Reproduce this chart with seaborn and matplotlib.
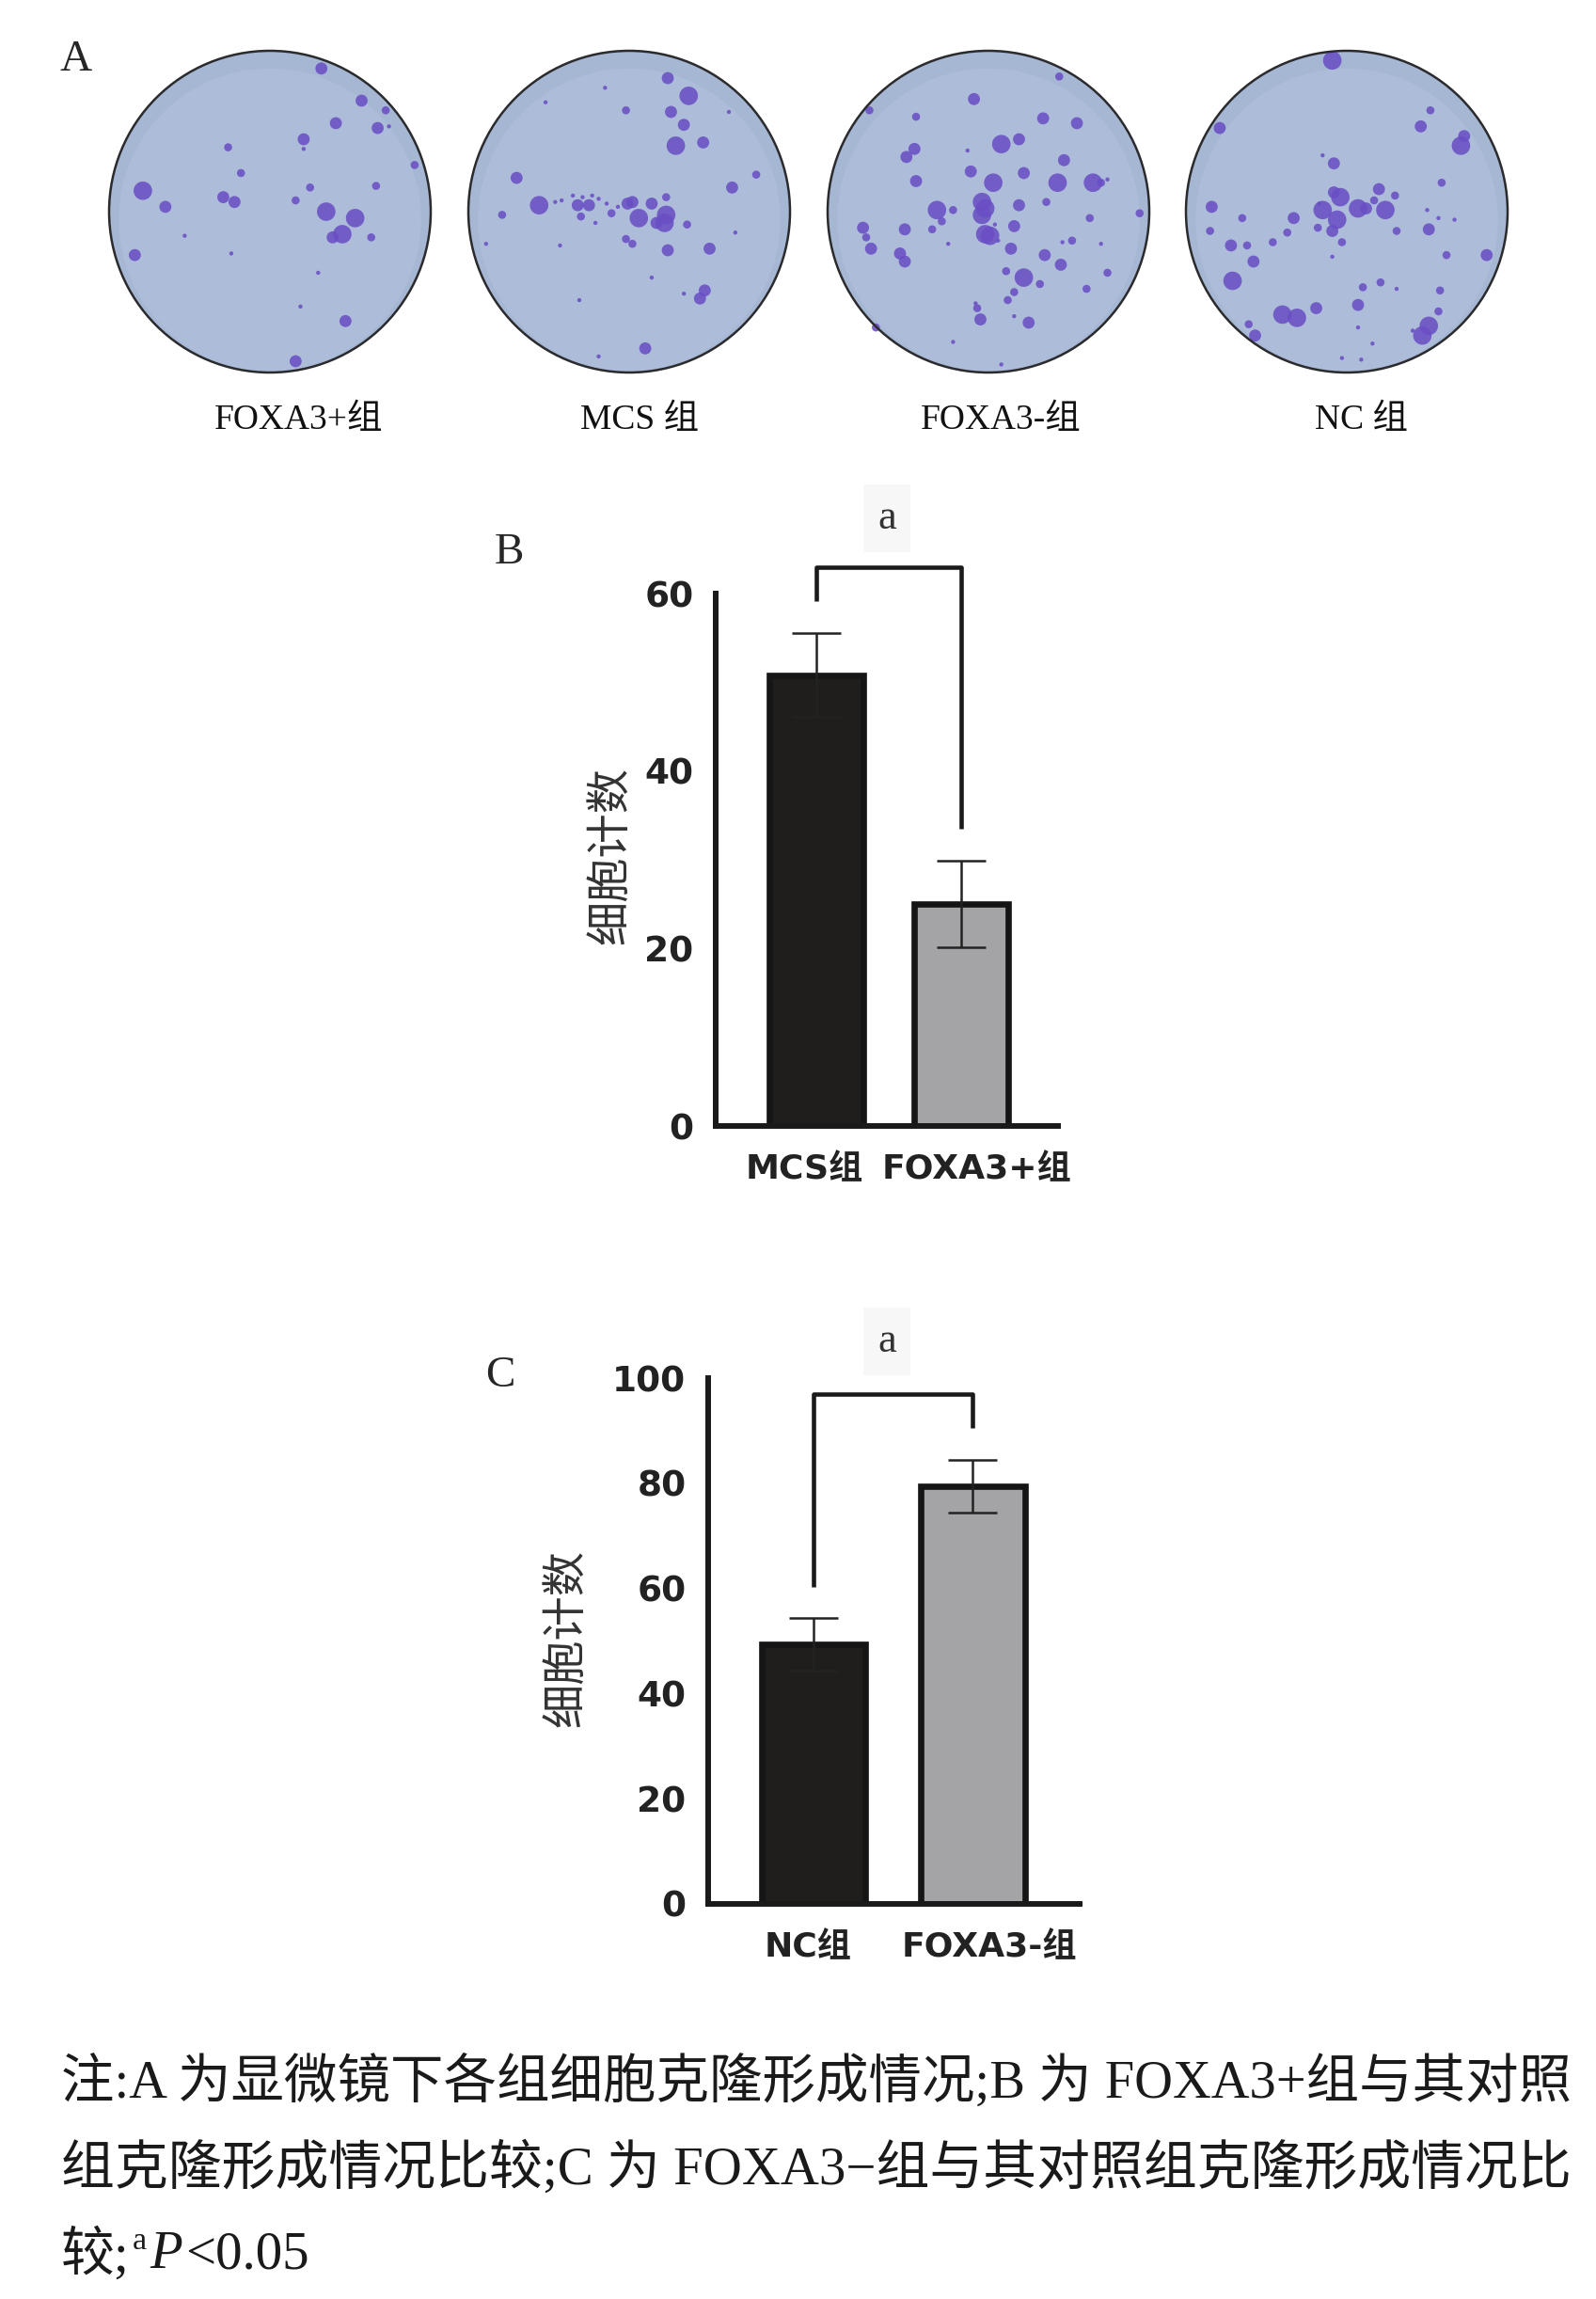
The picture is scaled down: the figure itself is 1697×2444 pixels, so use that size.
import numpy as np
import pandas as pd
import matplotlib
matplotlib.use("Agg")
import matplotlib.pyplot as plt
import matplotlib.transforms as mtransforms
from matplotlib.patches import Circle
import seaborn as sns

# %%
# Data

# Panel A: colonies on each dish, x / y relative to dish centre (in dish radii), size class 1-4
dish_labels = ["FOXA3+组", "MCS 组", "FOXA3-组", "NC 组"]

dish1 = [(0.32, 0.89, 3), (0.57, 0.69, 3), (0.72, 0.63, 2), (0.41, 0.55, 3), (0.67, 0.52, 3),
         (0.74, 0.53, 1), (0.21, 0.45, 3), (0.21, 0.39, 1), (-0.26, 0.40, 2), (0.90, 0.29, 2),
         (-0.18, 0.24, 2), (0.25, 0.15, 2), (0.66, 0.16, 2), (-0.79, 0.13, 4), (-0.65, 0.03, 3),
         (-0.29, 0.09, 3), (-0.22, 0.06, 3), (0.16, 0.07, 2), (0.35, 0.00, 4), (0.53, -0.04, 4),
         (0.45, -0.14, 4), (0.39, -0.16, 3), (0.63, -0.16, 2), (-0.84, -0.27, 3), (-0.53, -0.15, 1),
         (-0.24, -0.26, 1), (0.30, -0.38, 1), (0.19, -0.59, 1), (0.47, -0.68, 3), (0.16, -0.93, 3)]

dish2 = [(0.24, 0.83, 3), (0.37, 0.72, 4), (-0.15, 0.77, 1), (-0.52, 0.68, 1), (-0.02, 0.63, 2),
         (0.26, 0.62, 3), (0.34, 0.54, 3), (0.62, 0.62, 1), (0.29, 0.41, 4), (0.46, 0.43, 3),
         (-0.70, 0.21, 3), (0.79, 0.23, 2), (0.64, 0.15, 3), (-0.56, 0.04, 4), (-0.79, -0.02, 2),
         (-0.32, 0.04, 3), (-0.25, 0.04, 3), (-0.30, -0.03, 2), (-0.01, 0.05, 3), (0.02, 0.06, 3),
         (-0.11, -0.01, 2), (0.14, 0.05, 3), (0.23, 0.09, 2), (0.06, -0.04, 4), (0.23, -0.02, 4),
         (0.22, -0.07, 4), (0.17, -0.07, 3), (0.36, -0.08, 2), (-0.21, -0.07, 1), (-0.02, -0.17, 2),
         (0.02, -0.20, 2), (0.24, -0.24, 3), (0.50, -0.23, 3), (0.66, -0.13, 1), (-0.89, -0.20, 1),
         (-0.43, -0.21, 1), (0.14, -0.41, 1), (0.47, -0.49, 3), (0.44, -0.54, 3), (0.34, -0.51, 1),
         (-0.31, -0.55, 1), (0.10, -0.85, 3), (-0.19, -0.90, 1), (-0.35, 0.10, 1), (-0.29, 0.09, 1),
         (-0.23, 0.10, 1), (-0.19, 0.08, 1), (-0.46, 0.06, 1), (-0.42, 0.07, 1), (-0.14, 0.05, 1),
         (-0.07, 0.03, 1)]

dish3 = [(-0.09, 0.70, 3), (0.44, 0.84, 2), (-0.74, 0.63, 2), (-0.45, 0.59, 2), (0.34, 0.58, 3),
         (0.55, 0.55, 3), (0.08, 0.42, 4), (0.19, 0.45, 3), (-0.46, 0.39, 3), (-0.51, 0.34, 3),
         (-0.13, 0.38, 1), (-0.11, 0.25, 3), (0.03, 0.18, 4), (0.22, 0.24, 3), (0.47, 0.32, 3),
         (-0.45, 0.19, 3), (0.43, 0.18, 4), (0.65, 0.18, 4), (0.70, 0.18, 2), (0.74, 0.20, 1),
         (-0.04, 0.06, 4), (-0.04, -0.02, 4), (-0.02, 0.02, 4), (0.19, 0.04, 3), (0.36, 0.06, 2),
         (-0.32, 0.01, 4), (-0.22, 0.01, 2), (-0.29, -0.06, 2), (-0.35, -0.11, 2), (-0.52, -0.11, 3),
         (-0.78, -0.10, 3), (-0.76, -0.16, 2), (-0.73, -0.23, 3), (-0.55, -0.26, 3), (-0.52, -0.31, 3),
         (-0.02, -0.14, 4), (0.01, -0.15, 4), (0.16, -0.09, 3), (0.14, -0.23, 3), (0.04, -0.08, 1),
         (0.06, -0.18, 1), (-0.25, -0.20, 1), (0.63, -0.04, 2), (0.52, -0.18, 2), (0.46, -0.19, 1),
         (0.70, -0.20, 1), (0.94, -0.01, 2), (0.35, -0.27, 3), (0.45, -0.33, 3), (0.11, -0.37, 2),
         (0.22, -0.41, 4), (0.32, -0.45, 2), (0.74, -0.38, 2), (0.61, -0.48, 2), (0.16, -0.50, 2),
         (0.12, -0.55, 2), (-0.08, -0.57, 1), (-0.07, -0.60, 2), (-0.05, -0.67, 3), (0.25, -0.69, 3),
         (0.16, -0.65, 1), (-0.70, -0.72, 2), (-0.22, -0.81, 1), (0.08, -0.95, 1)]

dish4 = [(-0.09, 0.94, 4), (-0.79, 0.52, 3), (0.46, 0.53, 3), (0.52, 0.63, 2), (0.71, 0.41, 4),
         (0.73, 0.47, 3), (-0.08, 0.30, 3), (-0.15, 0.35, 1), (0.59, 0.18, 2), (0.20, 0.14, 3),
         (-0.08, 0.12, 3), (-0.04, 0.09, 4), (-0.15, 0.01, 4), (-0.06, -0.05, 4), (0.07, 0.02, 4),
         (0.12, 0.02, 3), (0.24, 0.01, 4), (0.30, 0.10, 2), (0.17, 0.07, 2), (-0.17, 0.05, 1),
         (-0.33, -0.04, 3), (-0.18, -0.10, 2), (-0.09, -0.12, 3), (-0.03, -0.19, 2), (0.31, -0.12, 2),
         (0.51, -0.11, 3), (0.50, 0.01, 1), (0.57, -0.04, 1), (0.67, -0.05, 1), (-0.84, 0.03, 3),
         (-0.65, -0.04, 2), (-0.85, -0.12, 2), (-0.72, -0.21, 3), (-0.62, -0.21, 2), (-0.46, -0.19, 2),
         (-0.37, -0.13, 2), (-0.58, -0.31, 3), (-0.71, -0.43, 4), (0.62, -0.27, 2), (0.87, -0.27, 3),
         (-0.09, -0.28, 1), (0.21, -0.44, 2), (0.10, -0.47, 2), (0.58, -0.49, 2), (0.31, -0.48, 1),
         (0.07, -0.58, 3), (-0.19, -0.60, 3), (-0.40, -0.64, 4), (-0.31, -0.66, 4), (0.57, -0.62, 2),
         (0.51, -0.71, 4), (0.47, -0.77, 4), (-0.61, -0.70, 2), (-0.57, -0.77, 3), (0.07, -0.72, 1),
         (0.41, -0.74, 1), (0.16, -0.82, 1), (-0.03, -0.91, 1), (0.09, -0.92, 1)]

# Panel B
b_groups = ["MCS组", "FOXA3+组"]
b_means = [50.8, 25.0]
b_errs = [4.7, 4.9]

# Panel C
c_groups = ["NC组", "FOXA3-组"]
c_means = [49.3, 79.5]
c_errs = [5.0, 5.0]

caption_lines = [
    "注:A 为显微镜下各组细胞克隆形成情况;B 为 FOXA3+组与其对照",
    "组克隆形成情况比较;C 为 FOXA3−组与其对照组克隆形成情况比",
]
# last caption line as pieces: plain, superscript, italic, plain
caption_last = ["较;", "a", "P", "<0.05"]

# %%
# Layout helpers (pixel coordinates of the 1697 x 2444 canvas)
W, H = 1697, 2444


def rect(l, t, r, b):
    return [l / W, 1 - b / H, (r - l) / W, (b - t) / H]


def fx(x):
    return x / W


def fy(y):
    return 1 - y / H


sns.set_style("white")
plt.rcParams["font.family"] = ["Liberation Serif", "Noto Sans CJK SC", "DejaVu Sans"]

serif_cjk = ["Liberation Serif", "Noto Sans CJK SC"]
bold_cjk = ["DejaVu Sans", "Noto Sans CJK SC"]

fig = plt.figure(figsize=(W / 100, H / 100), dpi=100)
fig.patch.set_facecolor("white")
renderer = fig.canvas.get_renderer()

# %%
# Panel A - dishes
size_map = {1: 10, 2: 38, 3: 85, 4: 200}
dish_cx = [287, 669, 1051, 1432]
dish_cy = 225
dish_r = 171
label_x = [318, 680, 1064, 1448]

for i, colonies in enumerate([dish1, dish2, dish3, dish4]):
    cx = dish_cx[i]
    pad = dish_r * 1.05
    ax = fig.add_axes(rect(cx - pad, dish_cy - pad, cx + pad, dish_cy + pad))
    ax.set_xlim(-1.05, 1.05)
    ax.set_ylim(-1.05, 1.05)
    ax.set_aspect("equal")
    ax.axis("off")

    ax.add_patch(Circle((0, 0), 1.0, facecolor="#a6b7d4", edgecolor="none", zorder=1))
    ax.add_patch(Circle((0, -0.05), 0.94, facecolor="#adbdd9", edgecolor="none", zorder=1))
    ax.add_patch(Circle((0, 0), 1.0, facecolor="none", edgecolor="#2b2b2e", linewidth=1.8, zorder=4))

    xs = [c[0] for c in colonies]
    ys = [c[1] for c in colonies]
    ss = [size_map[c[2]] for c in colonies]
    ax.scatter(xs, ys, s=ss, color="#6a4fc4", alpha=0.88, linewidths=0, zorder=3)

    fig.text(fx(label_x[i]), fy(447), dish_labels[i], ha="center", va="center",
             fontsize=27, family=serif_cjk, color="#111111")

fig.text(fx(81), fy(64), "A", ha="center", va="center", fontsize=34, family=serif_cjk)


# %%
# Panels B and C - bar charts
def bar_panel(box, groups, means, errs, ymax, step, xlim, label_shift):
    ax = fig.add_axes(rect(*box))
    df = pd.DataFrame({"group": groups, "count": means})
    sns.barplot(data=df, x="group", y="count", hue="group",
                palette=["#1f1e1c", "#a4a3a8"], width=0.65,
                edgecolor="#151515", linewidth=4.8, errorbar=None,
                legend=False, ax=ax, zorder=2)
    ax.errorbar(x=[0, 1], y=means, yerr=errs, fmt="none", ecolor="#222222",
                elinewidth=1.8, capsize=19, capthick=1.8, zorder=3)

    ax.set_ylim(0, ymax)
    ax.set_xlim(*xlim)
    ax.set_yticks(np.arange(0, ymax + 1, step))
    ax.set_xlabel("")
    ax.set_ylabel("")
    sns.despine(ax=ax)
    for side in ["left", "bottom"]:
        ax.spines[side].set_linewidth(4.3)
        ax.spines[side].set_color("#1a1a1a")
    ax.tick_params(axis="both", width=4.3, length=12, color="#1a1a1a",
                   labelsize=27, pad=5, direction="out")
    ax.tick_params(axis="x", pad=9, labelsize=26)
    for lab in ax.get_xticklabels() + ax.get_yticklabels():
        lab.set_family(bold_cjk)
        lab.set_fontweight("bold")
        lab.set_color("#222222")
    # the category labels sit a little off their ticks in the original
    for lab, dx in zip(ax.get_xticklabels(), label_shift):
        shift = mtransforms.ScaledTranslation(dx / 100, 0, fig.dpi_scale_trans)
        lab.set_transform(lab.get_transform() + shift)

    # significance bracket
    tops = [m + e for m, e in zip(means, errs)]
    gap = 0.06 * ymax
    top = max(tops) + 0.125 * ymax
    ax.plot([0, 0, 1, 1], [tops[0] + gap, top, top, tops[1] + gap],
            color="#1a1a1a", linewidth=3.3, clip_on=False, solid_capstyle="butt")
    return ax


ax_b = bar_panel((761, 631, 1125, 1197), b_groups, b_means, b_errs, 60, 20,
                 (-0.695, 1.67), (-13, 17))
ax_c = bar_panel((753, 1465, 1148, 2024), c_groups, c_means, c_errs, 100, 20,
                 (-0.66, 1.67), (-6, 17))

for (x, y), letter in zip([(541, 588), (532, 1463)], ["B", "C"]):
    fig.text(fx(x), fy(y), letter, ha="center", va="center", fontsize=34, family=serif_cjk)

for x, y in [(943, 551), (943, 1426)]:
    fig.text(fx(x), fy(y), "a", ha="center", va="center", fontsize=32, family=serif_cjk,
             color="#333333",
             bbox=dict(boxstyle="square,pad=0.35", facecolor="#f7f7f7", edgecolor="none"))

for x, y in [(649, 910), (602, 1741)]:
    fig.text(fx(x), fy(y), "细胞计数", ha="center", va="center", rotation=90,
             fontsize=34, family=["Noto Sans CJK SC"], color="#333333")

# %%
# Caption, first two lines stretched to the full text width
caption_y = [2213, 2305, 2397]
target_w = 1603
size = 40
for j, line in enumerate(caption_lines):
    t = fig.text(fx(65), fy(caption_y[j]), line, ha="left", va="center",
                 fontsize=40, family=serif_cjk, color="#1a1a1a")
    w = t.get_window_extent(renderer=renderer).width
    size = 40 * target_w / w
    t.set_fontsize(size)

# last line built from pieces so the superscript and italic P sit in place
x = 65
y = caption_y[2]
styles = [dict(fontsize=size, dy=0, style="normal"),
          dict(fontsize=size * 0.6, dy=-14, style="normal"),
          dict(fontsize=size, dy=0, style="italic"),
          dict(fontsize=size, dy=0, style="normal")]
for piece, st in zip(caption_last, styles):
    t = fig.text(fx(x), fy(y + st["dy"]), piece, ha="left", va="center",
                 fontsize=st["fontsize"], style=st["style"], family=serif_cjk, color="#1a1a1a")
    x += t.get_window_extent(renderer=renderer).width + 3

fig.savefig("out.png", dpi=100, facecolor="white")
